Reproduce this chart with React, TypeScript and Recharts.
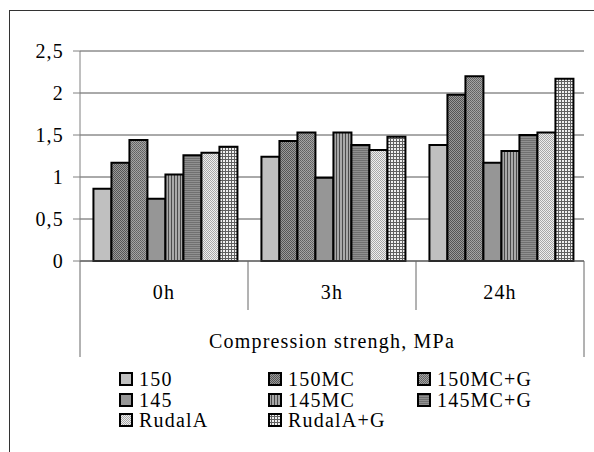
import React from 'react'
import { BarChart, Bar, XAxis, YAxis, CartesianGrid, Legend } from 'recharts'

const categories = ['0h', '3h', '24h']
const seriesNames = ['150', '150MC', '150MC+G', '145', '145MC', '145MC+G', 'RudalA', 'RudalA+G']
const s150 = [0.86, 1.24, 1.38]
const s150MC = [1.17, 1.43, 1.98]
const s150MCG = [1.44, 1.53, 2.2]
const s145 = [0.74, 0.99, 1.17]
const s145MC = [1.03, 1.53, 1.31]
const s145MCG = [1.26, 1.38, 1.5]
const sRudalA = [1.29, 1.32, 1.53]
const sRudalAG = [1.36, 1.48, 2.17]
const yTicks = [0, 0.5, 1, 1.5, 2, 2.5]
const xTitle = 'Compression strengh, MPa'

const seriesValues = [s150, s150MC, s150MCG, s145, s145MC, s145MCG, sRudalA, sRudalAG]
const patternIds = ['p150', 'p150mc', 'p150mcg', 'p145', 'p145mc', 'p145mcg', 'prud', 'prudg']

const data = categories.map((c, i) => {
  const row: Record<string, string | number> = { cat: c }
  seriesNames.forEach((n, j) => {
    row[n] = seriesValues[j][i]
  })
  return row
})

const FONT = '"Liberation Serif", "Times New Roman", serif'
const textStyle = { fill: '#000', fontSize: 20, fontFamily: FONT, letterSpacing: 1.2 }

function Patterns() {
  return (
    <svg width={0} height={0} style={{ position: 'absolute' }}>
      <defs>
        <pattern id="p150" width={4} height={4} patternUnits="userSpaceOnUse">
          <rect width={4} height={4} fill="#c0c0c0" />
        </pattern>
        <pattern id="p150mc" width={2} height={2} patternUnits="userSpaceOnUse">
          <rect width={2} height={2} fill="#9a9a9a" />
          <rect width={1} height={1} fill="#555" />
          <rect x={1} y={1} width={1} height={1} fill="#555" />
        </pattern>
        <pattern id="p150mcg" width={2} height={2} patternUnits="userSpaceOnUse">
          <rect width={2} height={2} fill="#a4a4a4" />
          <rect width={1} height={1} fill="#606060" />
          <rect x={1} y={1} width={1} height={1} fill="#6a6a6a" />
        </pattern>
        <pattern id="p145" width={4} height={4} patternUnits="userSpaceOnUse">
          <rect width={4} height={4} fill="#969696" />
        </pattern>
        <pattern id="p145mc" width={3} height={3} patternUnits="userSpaceOnUse">
          <rect width={3} height={3} fill="#a8a8a8" />
          <rect width={1} height={3} fill="#4a4a4a" />
        </pattern>
        <pattern id="p145mcg" width={2} height={2} patternUnits="userSpaceOnUse">
          <rect width={2} height={2} fill="#909090" />
          <rect width={2} height={1} fill="#707070" />
        </pattern>
        <pattern id="prud" width={2} height={2} patternUnits="userSpaceOnUse">
          <rect width={2} height={2} fill="#eeeeee" />
          <rect width={1} height={1} fill="#a8a8a8" />
          <rect x={1} y={1} width={1} height={1} fill="#a8a8a8" />
        </pattern>
        <pattern id="prudg" width={3} height={3} patternUnits="userSpaceOnUse">
          <rect width={3} height={3} fill="#f0f0f0" />
          <rect width={3} height={1} fill="#606060" />
          <rect width={1} height={3} fill="#606060" />
        </pattern>
      </defs>
    </svg>
  )
}

function CatTick(props: any) {
  const { x, y, payload, index } = props
  const half = payload.offset || 0
  const last = index === categories.length - 1
  return (
    <g>
      <text x={x} y={y + 31} textAnchor="middle" dominantBaseline="central" style={textStyle}>
        {payload.value}
      </text>
      {index === 0 && <line x1={x - half} y1={y} x2={x - half} y2={y + 96} stroke="#666" />}
      {!last && <line x1={x + half} y1={y} x2={x + half} y2={y + 49} stroke="#666" />}
      {last && <line x1={x + half} y1={y} x2={x + half} y2={y + 96} stroke="#666" />}
    </g>
  )
}

function LegendBox() {
  return (
    <div
      style={{
        display: 'grid',
        gridTemplateColumns: '149px 149px 149px',
        gridAutoRows: '20.5px',
        fontFamily: FONT,
        fontSize: 20,
        letterSpacing: 1.2,
        color: '#000',
      }}
    >
      {seriesNames.map((n, i) => (
        <div key={n} style={{ display: 'flex', alignItems: 'center', whiteSpace: 'nowrap', lineHeight: '20.5px' }}>
          <svg width={14} height={14} style={{ flex: 'none' }}>
            <rect x={1} y={1} width={12} height={12} fill={`url(#${patternIds[i]})`} stroke="#000" strokeWidth={2} />
          </svg>
          <span style={{ marginLeft: 6 }}>{n}</span>
        </div>
      ))}
    </div>
  )
}

export default function App() {
  return (
    <div style={{ position: 'absolute', left: 0, top: 0, width: 594, height: 452, overflow: 'hidden', background: '#fff' }}>
      <Patterns />
      <div
        style={{
          position: 'absolute',
          left: 9,
          top: 10,
          width: 700,
          height: 600,
          border: '1.5px solid #333',
        }}
      />
      <div style={{ position: 'absolute', left: 0, top: 0 }}>
        <BarChart
          width={594}
          height={452}
          data={data}
          margin={{ top: 51, right: 10, bottom: 95, left: 0 }}
          barCategoryGap="8%"
          barGap={0}
        >
          <CartesianGrid vertical={false} stroke="#555" />
          <XAxis
            dataKey="cat"
            height={96}
            tickSize={0}
            tickMargin={0}
            tickLine={false}
            axisLine={{ stroke: '#555' }}
            tick={<CatTick />}
            interval={0}
            label={{ value: xTitle, position: 'insideBottom', offset: 9, style: textStyle }}
          />
          <YAxis
            width={80}
            domain={[0, 2.5]}
            ticks={yTicks}
            tickSize={7}
            tickMargin={9}
            axisLine={{ stroke: '#808080' }}
            tickLine={{ stroke: '#808080' }}
            tick={textStyle}
            tickFormatter={(v: number) => String(v).replace('.', ',')}
            interval={0}
          />
          <YAxis
            yAxisId="r"
            orientation="right"
            width={0}
            domain={[0, 2.5]}
            tick={false}
            tickLine={false}
            axisLine={{ stroke: '#808080' }}
          />
          {seriesNames.map((n, i) => (
            <Bar
              key={n}
              dataKey={n}
              fill={`url(#${patternIds[i]})`}
              stroke="#000"
              strokeWidth={2}
              isAnimationActive={false}
            />
          ))}
          <Legend
            layout="horizontal"
            verticalAlign="middle"
            align="center"
            content={<LegendBox />}
            wrapperStyle={{ left: 119, top: 369, width: 460, height: 62 }}
          />
        </BarChart>
      </div>
    </div>
  )
}
